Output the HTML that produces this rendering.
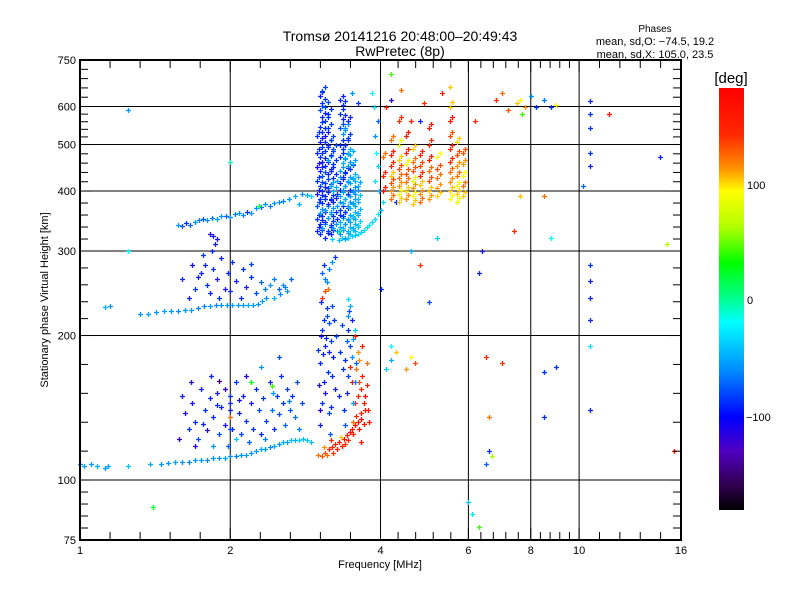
<!DOCTYPE html>
<html><head><meta charset="utf-8">
<style>
body{margin:0;background:#fff;}
svg text{font-family:"Liberation Sans",sans-serif;fill:#000;}
</style></head>
<body>
<svg id="chart" width="800" height="600" viewBox="0 0 800 600" xmlns="http://www.w3.org/2000/svg">
<defs>
<linearGradient id="cbar" x1="0" y1="0" x2="0" y2="1">
<stop offset="0" stop-color="#ff0000"/>
<stop offset="0.11" stop-color="#ff2800"/>
<stop offset="0.19" stop-color="#ff9000"/>
<stop offset="0.245" stop-color="#ffff00"/>
<stop offset="0.33" stop-color="#b0ff00"/>
<stop offset="0.415" stop-color="#00ff00"/>
<stop offset="0.5" stop-color="#00ff90"/>
<stop offset="0.555" stop-color="#00ffff"/>
<stop offset="0.665" stop-color="#0090ff"/>
<stop offset="0.78" stop-color="#0000ff"/>
<stop offset="0.86" stop-color="#5000c0"/>
<stop offset="0.94" stop-color="#300050"/>
<stop offset="1" stop-color="#000000"/>
</linearGradient>
</defs>
<text x="400" y="41" font-size="14" text-anchor="middle">Tromsø 20141216 20:48:00–20:49:43</text>
<text x="400" y="56" font-size="14" text-anchor="middle">RwPretec (8p)</text>
<text x="655" y="32" font-size="10" text-anchor="middle">Phases</text>
<text x="655" y="45" font-size="11" text-anchor="middle">mean, sd,O: −74.5, 19.2</text>
<text x="655" y="58" font-size="11" text-anchor="middle">mean, sd,X: 105.0, 23.5</text>
<g id="grid"></g>
<g id="marks"></g>
<g id="axes"></g>
<text x="380" y="568" font-size="11" text-anchor="middle">Frequency [MHz]</text>
<text transform="translate(48,300) rotate(-90)" font-size="11" text-anchor="middle">Stationary phase Virtual Height [km]</text>
<rect x="719" y="88" width="25" height="422" fill="url(#cbar)"/>
<text x="731" y="83" font-size="15" text-anchor="middle">[deg]</text>
<text x="747" y="189" font-size="11">100</text>
<text x="747" y="304" font-size="11">0</text>
<text x="746" y="421" font-size="11">−100</text>
</svg>
<script>
const xMajorTicks=[1,2,4,6,8,10,16];
const xTickLabels=["1","2","4","6","8","10","16"];
const xGridVals=[2,4,6,8,10];
const yMajorTicks=[75,100,200,300,400,500,600,750];
const yTickLabels=["75","100","200","300","400","500","600","750"];
const yGridVals=[100,200,300,400,500,600];

// [freq MHz, height km, phase deg]
const eTrace=[[1.0,108,-60],[1.02,107,-55],[1.05,108,-60],[1.08,107,-50],[1.12,106,-60],[1.14,107,-55],[1.25,107,-40],[1.38,108,-50],[1.45,108,-60],[1.5,108.5,-60],[1.55,109,-55],[1.6,109,-60],[1.65,109,-65],[1.7,110,-60],[1.75,110,-60],[1.8,110,-65],[1.85,111,-60],[1.9,111,-60],[1.95,111,-55],[2.0,112,-60],[2.05,112,-70],[2.1,113,-60],[2.15,113,-55],[2.2,114,-60],[2.25,115,-60],[2.3,116,-55],[2.35,116,-60],[2.4,117,-65],[2.45,118,-55],[2.5,119,-60],[2.55,120,-50],[2.6,120,-55],[2.65,121,-45],[2.7,121,-50],[2.75,121,-40],[2.8,122,-45],[2.85,121,-40],[2.9,120,-45]];
const eScatter=[[1.6,150,-110],[1.62,138,-120],[1.65,128,-100],[1.68,145,-115],[1.7,132,-105],[1.72,122,-90],[1.75,155,-110],[1.78,140,-100],[1.8,127,-125],[1.82,148,-110],[1.85,135,-105],[1.88,152,-115],[1.9,125,-90],[1.92,142,-110],[1.95,130,-120],[1.98,118,-80],[2.0,145,-105],[2.02,128,-115],[2.05,160,-100],[2.08,138,-110],[2.1,125,-95],[2.12,150,-110],[2.15,133,-100],[2.18,120,-85],[2.2,145,-115],[2.22,128,-100],[2.25,155,-105],[2.28,140,-90],[2.3,125,-110],[2.33,148,-100],[2.36,133,-95],[2.4,160,-105],[2.42,140,-75],[2.45,128,-110],[2.48,150,-100],[2.5,137,-90],[2.53,165,-105],[2.55,145,-100],[2.58,130,-80],[2.6,155,-95],[2.63,140,-85],[2.66,150,-100],[2.7,135,-75],[2.72,160,-90],[2.75,128,-70],[2.78,145,-95],[1.58,122,-140],[1.7,118,-130],[1.85,118,-60],[1.95,155,-140],[2.05,122,-40],[2.15,165,-130],[2.3,172,-60],[2.5,180,-90],[2.35,122,-70],[1.88,143,-100],[1.76,131,-110],[2.08,147,-120],[2.44,152,-60],[2.62,146,-70],[2.2,160,30],[2.42,157,40],[1.9,161,-160],[2.0,135,120],[2.0,150,-100],[2.0,140,-110],[2.0,128,-90],[1.67,160,-120],[1.83,165,-110]];
const eX=[[3.0,113,120],[3.05,112,125],[3.1,114,130],[3.12,113,120],[3.15,116,140],[3.2,117,145],[3.25,119,150],[3.3,120,155],[3.35,118,150],[3.38,122,160],[3.42,124,155],[3.45,121,150],[3.48,126,165],[3.5,128,160],[3.53,125,150],[3.56,130,165],[3.6,132,160],[3.63,128,155],[3.66,134,170],[3.7,131,165],[3.08,117,110],[3.18,121,140],[3.28,116,150],[3.4,119,140],[3.52,132,120],[3.58,136,140],[3.65,138,150],[3.72,140,160],[3.22,114,135],[3.33,123,100],[3.55,145,150],[3.6,150,140],[3.62,160,130],[3.65,155,140],[3.58,170,120],[3.63,178,110],[3.68,165,150],[3.7,145,160],[3.72,150,170],[3.75,158,150],[3.6,185,110],[3.68,190,150],[3.55,200,140],[3.75,175,120],[3.78,140,160],[3.8,132,170],[3.5,160,160],[3.48,172,150],[3.65,120,160],[3.06,240,140],[3.1,248,130],[3.14,250,120]];
const esColumns=[[3.02,130,-110],[3.05,145,-100],[3.08,160,-115],[3.03,175,-105],[3.1,190,-110],[3.06,205,-100],[3.12,220,-90],[3.04,235,-110],[3.15,138,-95],[3.09,152,-120],[3.14,168,-100],[3.07,183,-110],[3.11,198,-105],[3.16,212,-90],[3.13,228,-100],[3.18,142,-110],[3.2,165,-100],[3.22,180,-115],[3.19,195,-95],[3.24,155,-110],[3.01,158,-120],[3.0,187,-100],[3.17,125,-85],[3.1,262,-70],[3.05,270,-80],[3.12,258,-60],[3.15,275,-70],[3.08,280,-100],[3.2,285,-60],[3.25,292,-100],[3.02,140,-130],[3.26,200,-90],[3.23,215,-100],[3.38,140,-100],[3.42,152,-110],[3.45,165,-95],[3.4,178,-105],[3.48,190,-90],[3.44,205,-100],[3.5,215,-110],[3.46,225,-90],[3.52,145,-60],[3.55,160,-70],[3.36,170,-100],[3.42,195,-80],[3.5,180,-60],[3.55,205,-40],[3.47,230,-50],[3.3,150,-110],[3.32,185,-100],[3.35,210,-95],[3.58,175,-80],[3.4,130,-90],[3.53,197,-60],[3.45,238,-30],[3.04,200,-120],[3.08,215,-100],[3.16,185,-110],[3.2,230,-90],[3.44,220,-60]];
const trace230=[[1.12,229,-50],[1.15,230,-60],[1.32,222,-60],[1.37,222,-55],[1.42,224,-60],[1.47,225,-55],[1.52,225,-60],[1.57,225,-65],[1.62,226,-60],[1.67,226,-60],[1.72,228,-70],[1.77,230,-65],[1.82,230,-60],[1.87,231,-65],[1.92,231,-60],[1.97,232,-60],[2.02,232,-55],[2.07,231,-60],[2.12,231,-60],[2.17,231,-55],[2.22,232,-60],[2.27,233,-60],[2.32,236,-55],[2.36,240,-60],[1.65,240,-110],[1.7,250,-100],[1.72,265,-115],[1.75,270,-110],[1.78,280,-105],[1.8,255,-100],[1.82,245,-110],[1.85,275,-100],[1.88,262,-115],[1.9,240,-100],[1.92,290,-110],[1.95,250,-120],[1.98,270,-105],[2.0,248,-110],[2.02,285,-100],[2.05,260,-110],[2.1,240,-105],[2.12,275,-100],[2.15,252,-115],[2.2,265,-100],[2.25,245,-90],[2.3,258,-80],[2.35,250,-70],[2.4,255,-60],[2.45,262,-70],[2.5,250,-80],[2.55,255,-60],[2.45,240,-50],[2.6,248,-60],[2.65,262,-80],[1.6,262,-110],[1.68,280,-120],[1.76,295,-100],[1.84,300,-105],[1.86,310,-115],[1.88,318,-120],[2.2,282,-95],[2.58,252,-70],[2.52,244,-65]];
const upperTrace=[[1.57,340,-60],[1.6,338,-90],[1.63,343,-100],[1.66,340,-80],[1.7,345,-60],[1.73,348,-70],[1.76,350,-90],[1.8,348,-60],[1.84,352,-70],[1.88,350,-60],[1.92,355,-60],[1.96,355,-80],[2.0,353,-60],[2.04,358,-70],[2.08,360,-60],[2.12,356,-65],[2.16,362,-100],[2.2,360,-60],[2.25,368,-60],[2.3,370,-80],[2.35,375,-60],[2.4,372,-70],[2.45,378,-60],[2.5,380,-65],[2.55,382,-70],[2.62,385,-60],[2.7,390,-50],[2.78,395,-60],[2.85,392,-50],[2.28,372,20],[1.82,325,-130],[1.85,322,-110]];
const f2ColFreqs=[2.98,3.02,3.06,3.1,3.14,3.18,3.22,3.28,3.32,3.36,3.4,3.44,3.48,3.52,3.56,3.6];
const f2ColHeights=[[330,350,372,395,420,448,480,520],[325,342,360,385,410,440,470,505,545,590,630],[335,355,378,400,430,460,495,530,570,610,645],[320,345,365,390,415,450,485,520,560,600],[330,352,375,405,435,465,500,540,580],[325,340,362,385,410,440,475,510],[335,355,380,400,425,455,490],[330,350,372,395,420],[325,345,365,390,415,440,470,500,540,580,620],[335,355,378,402,428,458,490,525,565,605],[320,342,362,385,410,438,468,500,540],[330,350,372,395,420,450,480,515,560],[325,345,368,390,415,445,475],[335,355,378,400,425,455],[330,350,372,395,420],[340,360,385,410]];
const f2ColPhases=[[-110,-100,-90,-115,-100,-120,-105,-100],[-100,-110,-60,-105,-95,-110,-100,-115,-100,-90,-110],[-60,-105,-100,-110,-90,-115,-100,-105,-110,-100,-95],[-110,-100,-60,-105,-95,-110,-100,-120,-100,-90],[-100,-55,-110,-100,-105,-60,-110,-100,-105],[-110,-100,-60,-105,-50,-110,-100,-95],[-60,-100,-110,-50,-105,-100,-90],[-50,-105,-60,-100,-55],[-60,-50,-100,-55,-110,-60,-100,-105,-90,-100,-110],[-50,-100,-55,-60,-105,-50,-100,-60,-110,-100],[-55,-60,-100,-50,-60,-105,-55,-100,-60],[-50,-55,-60,-100,-55,-60,-50,-100,-110],[-45,-55,-50,-60,-55,-100,-50],[-50,-45,-55,-60,-50,-55],[-45,-50,-55,-60,-50],[-40,-50,-45,-55]];
const fTrace=[[3.2,318,-40],[3.3,316,-45],[3.35,320,-40],[3.4,318,-45],[3.45,320,-40],[3.5,322,-35],[3.55,324,-40],[3.6,326,-35],[3.65,329,-40],[3.7,332,-35],[3.75,336,-40],[3.8,340,-30],[3.85,345,-35],[3.9,350,-30],[3.95,358,-30],[4.0,365,-35],[4.05,380,-30],[3.9,420,-30],[3.95,450,-40],[3.92,480,-20],[3.98,400,-50],[3.9,520,-60],[3.95,560,-80],[3.88,600,-30],[3.85,640,-20]];
const xF2ColFreqs=[4.05,4.2,4.35,4.5,4.65,4.8,5.0,5.2,5.5,5.7,5.85];
const xF2ColHeights=[[400,430,470],[385,400,415,430,450,475,510],[380,395,410,425,445,465,500,560],[385,400,418,435,455,480,520],[375,390,405,420,440,460,490],[380,395,412,430,450,475],[385,400,420,440,465,500,540],[390,405,425,445,470],[385,400,418,438,460,490,520,560,600],[380,395,410,430,450,475,505],[390,410,430,455,480]];
const xF2ColPhases=[[160,150,120],[120,110,130,100,140,150,120],[100,90,110,120,130,100,80,140],[110,100,120,130,90,150,160],[100,90,110,80,130,120,100],[120,110,100,140,130,150],[110,100,130,120,150,140,160],[100,110,120,130,90],[90,100,110,120,140,150,130,160,100],[80,100,90,120,110,130,100],[100,120,90,110,130]];
const sparse=[[4.1,600,150],[4.4,650,120],[4.6,560,150],[4.9,610,140],[5.3,640,160],[4.2,700,40],[7.0,640,120],[7.5,610,100],[7.6,620,90],[7.8,600,110],[8.0,630,-60],[8.2,600,-100],[8.5,620,-70],[8.8,600,-100],[9.0,605,80],[7.7,580,40],[7.2,590,130],[6.8,620,140],[6.2,560,150],[10.5,615,-110],[10.5,580,-100],[10.5,540,-100],[10.5,480,-100],[10.5,450,-110],[11.5,580,170],[14.5,470,-110],[10.2,410,-80],[8.5,390,120],[8.8,320,-20],[7.4,330,140],[7.6,390,100],[6.4,300,-120],[6.3,270,-110],[10.5,280,-100],[10.5,260,-110],[10.5,240,-110],[10.5,215,-110],[10.5,190,-30],[10.5,140,-110],[15.5,115,160],[15,310,60],[5.0,235,-90],[6.5,180,150],[7.0,175,140],[6.6,135,120],[6.6,115,-100],[6.7,112,60],[6.5,108,-80],[9.0,172,-100],[8.5,168,-100],[8.5,135,-100],[6.0,90,-40],[6.1,85,-30],[6.3,80,40],[1.4,88,20],[1.25,590,-60],[1.25,300,-20],[4.3,185,100],[4.5,170,110],[4.6,180,90],[4.7,175,130],[4.1,170,-40],[4.2,178,-50],[4.2,190,-20],[2.0,460,-10],[2.9,390,-30],[2.75,375,-50],[4.0,250,-100],[5.2,320,-40],[4.8,280,140],[4.3,380,-100],[4.6,300,-50],[3.6,610,-100],[3.5,640,-60],[4.2,620,-120],[4.8,560,-110],[5.5,660,100],[3.3,330,20]];

const X0=80,X1=681,Y0=60,Y1=540;
function xs(f){return X0+(X1-X0)*Math.log2(f)/4;}
function ys(h){return Y1-(Y1-Y0)*Math.log10(h/75);}
const NS="http://www.w3.org/2000/svg";
const cStops=[[180,[255,0,0]],[140,[255,40,0]],[110,[255,144,0]],[90,[255,255,0]],[60,[176,255,0]],[30,[0,255,0]],[0,[0,255,144]],[-20,[0,255,255]],[-60,[0,150,255]],[-100,[0,50,255]],[-130,[40,0,235]],[-160,[60,0,130]],[-180,[0,0,0]]];
function pcol(p){
  for(let i=0;i<cStops.length-1;i++){
    const a=cStops[i],b=cStops[i+1];
    if(p<=a[0]&&p>=b[0]){const t=(a[0]-p)/(a[0]-b[0]);
      const c=a[1].map((v,k)=>Math.round(v+(b[1][k]-v)*t));return `rgb(${c})`;}
  }
  return p>180?"rgb(255,0,0)":"rgb(0,0,0)";
}
function line(g,x1,y1,x2,y2,name,w){
  const l=document.createElementNS(NS,"line");
  l.setAttribute("x1",x1);l.setAttribute("y1",y1);l.setAttribute("x2",x2);l.setAttribute("y2",y2);
  l.setAttribute("stroke","#000");l.setAttribute("stroke-width",w||1);
  
  
  g.appendChild(l);
}
function txt(g,x,y,s,anchor,name){
  const t=document.createElementNS(NS,"text");
  t.setAttribute("x",x);t.setAttribute("y",y);t.setAttribute("font-size","11");t.setAttribute("text-anchor",anchor);
  t.textContent=s;
  
  
  g.appendChild(t);
}
const grid=document.getElementById("grid"),axes=document.getElementById("axes"),marks=document.getElementById("marks");
xGridVals.forEach(v=>line(grid,xs(v),Y0,xs(v),Y1,"x-gridline",1));
yGridVals.forEach(v=>line(grid,X0,ys(v),X1,ys(v),"y-gridline",1));
const fr=document.createElementNS(NS,"rect");
fr.setAttribute("x",X0);fr.setAttribute("y",Y0);fr.setAttribute("width",X1-X0);fr.setAttribute("height",Y1-Y0);
fr.setAttribute("fill","none");fr.setAttribute("stroke","#000");fr.setAttribute("stroke-width","2");


axes.appendChild(fr);
for(let i=0;i<xMajorTicks.length-1;i++){
  const a=Math.log2(xMajorTicks[i]),b=Math.log2(xMajorTicks[i+1]);
  for(let k=1;k<5;k++){const x=xs(Math.pow(2,a+(b-a)*k/5));
    line(axes,x,Y1,x,Y1-8,"x-minor-tick");line(axes,x,Y0,x,Y0+8,"x-minor-tick");}
}
xMajorTicks.forEach((v,i)=>{const x=xs(v);line(axes,x,Y1,x,Y1-12,"x-major-tick");line(axes,x,Y0,x,Y0+12,"x-major-tick");
  txt(axes,x,554,xTickLabels[i],"middle","x-tick-label");});
for(let i=0;i<yMajorTicks.length-1;i++){
  const a=Math.log10(yMajorTicks[i]),b=Math.log10(yMajorTicks[i+1]);
  for(let k=1;k<5;k++){const y=ys(Math.pow(10,a+(b-a)*k/5));
    line(axes,X0,y,X0+8,y,"y-minor-tick");line(axes,X1,y,X1-8,y,"y-minor-tick");}
}
yMajorTicks.forEach((v,i)=>{const y=ys(v);line(axes,X0,y,X0+12,y,"y-major-tick");line(axes,X1,y,X1-12,y,"y-major-tick");
  txt(axes,76,y+4,yTickLabels[i],"end","y-tick-label");});
function plot(f,h,p){
  const x=Math.round(xs(f))+0.5,y=Math.round(ys(h))+0.5;
  const m=document.createElementNS(NS,"path");
  m.setAttribute("d",`M${x-2.5} ${y}h5M${x} ${y-2.5}v5`);
  m.setAttribute("stroke",pcol(p));m.setAttribute("stroke-width","1.3");
  
  
  marks.appendChild(m);
}
[eTrace,eScatter,eX,esColumns,trace230,upperTrace,fTrace,sparse].forEach(arr=>arr.forEach(d=>plot(d[0],d[1],d[2])));
f2ColFreqs.forEach((f,i)=>f2ColHeights[i].forEach((h,j)=>{plot(f,h,f2ColPhases[i][j]);plot(f*1.012,h*1.02,f2ColPhases[i][j]);}));
xF2ColFreqs.forEach((f,i)=>xF2ColHeights[i].forEach((h,j)=>{plot(f,h,xF2ColPhases[i][j]);plot(f*1.01,h*1.02,xF2ColPhases[i][j]);}));
</script>
</body></html>
